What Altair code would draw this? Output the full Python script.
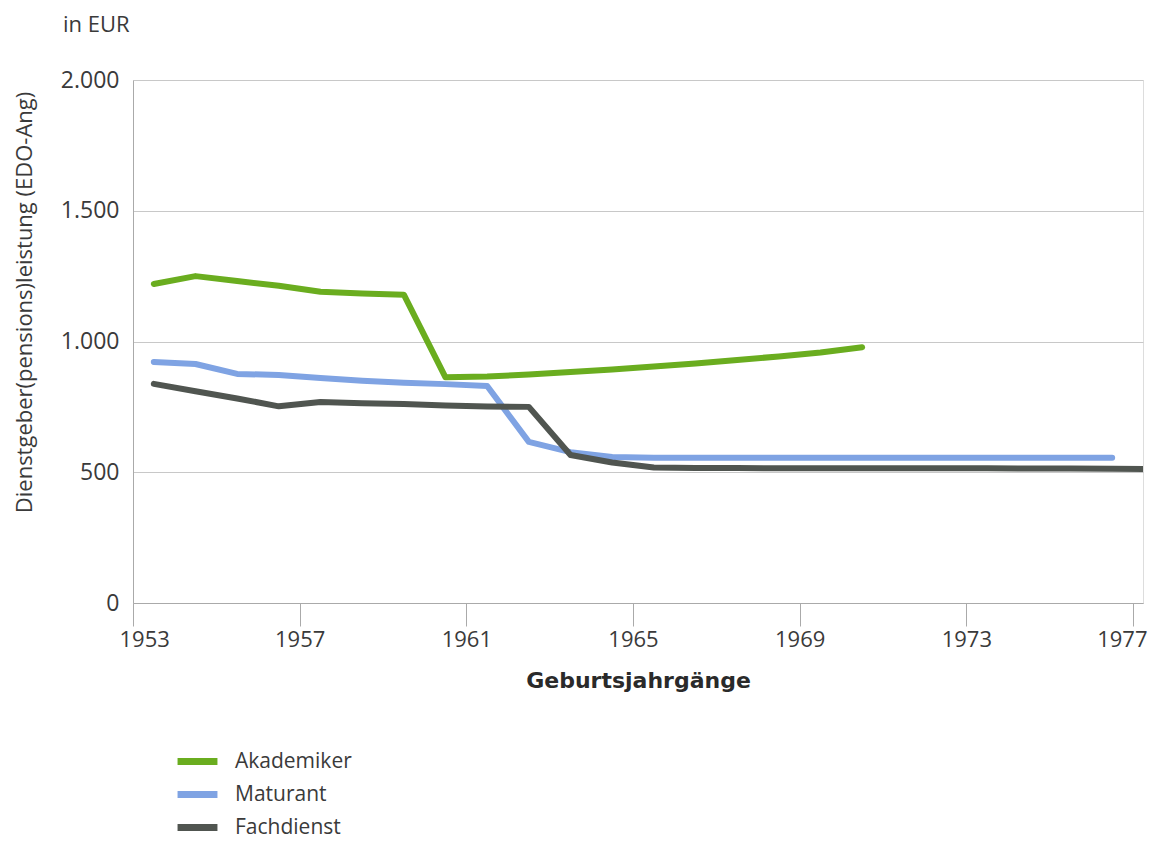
import altair as alt
import pandas as pd

# Data (cohort year -> EUR)
years_ak = list(range(1953, 1971))
akademiker = [1220, 1250, 1231, 1213, 1190, 1184, 1179, 863, 866, 874, 883, 893,
              904, 916, 929, 943, 958, 978]

years_ma = list(range(1953, 1977))
maturant = [922, 914, 876, 872, 860, 850, 842, 837, 830, 616, 577, 558,
            555, 555, 555, 555, 555, 555, 555, 555, 555, 555, 555, 555]

years_fd = list(range(1953, 1978))
fachdienst = [838, 810, 782, 752, 769, 764, 761, 755, 751, 750, 566, 537,
              518, 516, 516, 515, 515, 515, 515, 515, 515, 514, 514, 513, 512]

series = ["Akademiker", "Maturant", "Fachdienst"]
colors = ["#6aad1f", "#7fa3e3", "#505550"]
x_ticks = [1953, 1957, 1961, 1965, 1969, 1973, 1977]
y_ticks = [0, 500, 1000, 1500, 2000]

rows = []
for name, ys, vs in [("Akademiker", years_ak, akademiker),
                     ("Maturant", years_ma, maturant),
                     ("Fachdienst", years_fd, fachdienst)]:
    for y, v in zip(ys, vs):
        rows.append({"jahrgang": y, "wert": v, "gruppe": name})
df = pd.DataFrame(rows)

FONT = "Open Sans"
TXT = "#3a3a3a"

chart = (
    alt.Chart(df)
    .transform_calculate(xpos="datum.jahrgang + 0.5")
    .mark_line(strokeWidth=6, strokeCap="round", strokeJoin="round", clip=True)
    .encode(
        x=alt.X(
            "xpos:Q",
            scale=alt.Scale(domain=[1953, 1977.24], nice=False, zero=False),
            axis=alt.Axis(
                values=x_ticks,
                format="d",
                title="Geburtsjahrgänge",
                titleFont="DejaVu Sans",
                titleFontWeight="bold",
                titleFontSize=22,
                titleColor="#2a2a2a",
                titleX=505,
                titleY=77,
                titleBaseline="middle",
                labelFont=FONT,
                labelFontSize=22,
                labelColor=TXT,
                labelPadding=3,
                labelFlush=12,
                labelFlushOffset=14,
                ticks=True,
                tickSize=23,
                tickColor="#aaaaaa",
                domainColor="#aaaaaa",
                grid=False,
            ),
        ),
        y=alt.Y(
            "wert:Q",
            scale=alt.Scale(domain=[0, 2000], nice=False),
            axis=alt.Axis(
                values=y_ticks,
                labelExpr="replace(format(datum.value, ','), ',', '.')",
                title="Dienstgeber(pensions)leistung (EDO-Ang)",
                titleFont=FONT,
                titleFontWeight="normal",
                titleFontSize=22,
                titleColor=TXT,
                titleX=-109,
                titleY=222,
                titleBaseline="middle",
                labelFont=FONT,
                labelFontSize=23,
                labelColor=TXT,
                labelPadding=14,
                ticks=False,
                domainColor="#aaaaaa",
                grid=True,
                gridColor="#c8c8c8",
            ),
        ),
        color=alt.Color(
            "gruppe:N",
            scale=alt.Scale(domain=series, range=colors),
            sort=series,
            legend=alt.Legend(
                title=None,
                orient="none",
                legendX=46,
                legendY=663,
                direction="vertical",
                symbolType="M-1.33,0H1.33",
                symbolSize=900,
                symbolStrokeWidth=7,
                labelFont=FONT,
                labelFontSize=21,
                labelColor=TXT,
                labelOffset=19,
                rowPadding=-1,
                padding=0,
            ),
        ),
        order=alt.Order("jahrgang:Q"),
    )
    .properties(
        width=1010,
        height=523,
        title=alt.TitleParams(
            "in EUR",
            anchor="start",
            frame="group",
            font=FONT,
            fontSize=22,
            fontWeight="normal",
            color=TXT,
            dx=-70,
            dy=6,
            offset=38,
        ),
        autosize=alt.AutoSizeParams(type="none"),
        padding={"left": 125, "top": 72, "right": 13, "bottom": 235},
    )
    .configure_view(stroke="#aaaaaa", strokeWidth=1)
    .configure(background="white")
)

chart.save("out.html", embed_options={"renderer": "svg", "actions": False})
